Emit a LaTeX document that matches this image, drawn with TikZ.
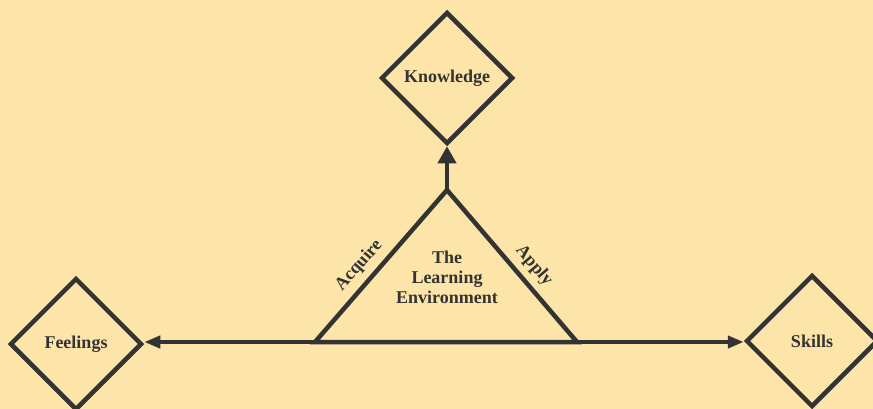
\documentclass[tikz,border=0pt]{standalone}
\usepackage{fontspec}
\setmainfont{Liberation Serif}
\usetikzlibrary{shapes.geometric, arrows.meta}
\definecolor{paper}{RGB}{253,228,168}
\definecolor{ink}{RGB}{51,51,51}

\begin{document}
\begin{tikzpicture}
  [
    x = 1pt, y = -1pt, % pixel grid, y down
    line width = 4.5pt, color = ink,
    every node/.style = {font = \bfseries\fontsize{18}{20}\selectfont},
    box/.style = {draw, diamond, minimum width = 132pt, minimum height = 132pt, inner sep = 0pt},
    link/.style = {-{Triangle[length = 16pt, width = 12pt]}, line width = 4pt}
  ]
  \fill[paper] (0,0) rectangle (873,409);
  \useasboundingbox (0,0) rectangle (873,409);
  \coordinate (Top)   at (447,190);
  \coordinate (Left)  at (315,342);
  \coordinate (Right) at (577,342);
  \node[box] (Knowledge) at (447,78)  {Knowledge};
  \node[box] (Feelings)  at (76,344)  {Feelings};
  \node[box] (Skills)    at (812,341) {Skills};
  \node[align = center] (Env) at (447,277) {The\\Learning\\Environment};
  \draw (Left) -- node[pos = 0.43, sloped, above = 3pt] (Acquire) {Acquire}
        (Top)  -- node[pos = 0.57, sloped, above = 3pt] (Apply) {Apply}
        (Right) -- cycle;
  \draw[link, -{Triangle[length = 17pt, width = 18pt]}] (Top) -- (Knowledge);
  \draw[link] (Left) -- (Left -| Feelings.east);
  \draw[link] (Right) -- (Right -| Skills.west);
\end{tikzpicture}
\end{document}
